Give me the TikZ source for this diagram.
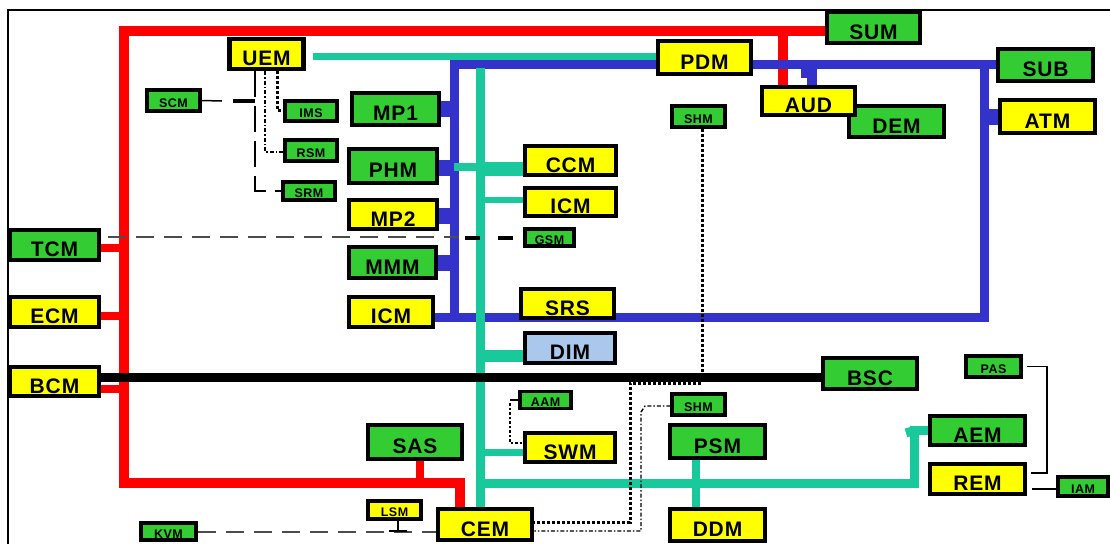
\documentclass[tikz,border=0pt]{standalone}
\usepackage{fontspec}
\setmainfont[LetterSpace=4]{Liberation Sans}
\definecolor{grn}{RGB}{51,204,51}
\definecolor{ylw}{RGB}{255,255,0}
\definecolor{lbl}{RGB}{170,200,235}
\definecolor{bbus}{RGB}{51,51,204}
\definecolor{tbus}{RGB}{25,200,155}
\definecolor{rbus}{RGB}{255,0,0}
\pgfdeclarelayer{background}
\pgfsetlayers{background,main}
\tikzset{
  mod/.style={draw=black, line width=4.5pt, inner sep=0pt, text height=23pt, text depth=0pt, font=\fontsize{21}{21}\selectfont\bfseries},
  smod/.style={draw=black, line width=3.5pt, inner sep=0pt, text height=13.3pt, text depth=0pt, font=\fontsize{12.5}{12.5}\selectfont\bfseries},
  gbox/.style={fill=grn}, ybox/.style={fill=ylw}, lbox/.style={fill=lbl},
  redbus/.style={draw=rbus, line width=10pt},
  redstub/.style={draw=rbus, line width=8pt},
  bluebus/.style={draw=bbus, line width=9pt},
  bluestub/.style={draw=bbus, line width=16pt},
  tealbus/.style={draw=tbus, line width=9pt},
  blackbus/.style={draw=black, line width=9pt},
  thickdot/.style={draw=black, line width=3pt, dash pattern=on 3pt off 2pt},
  thindd/.style={draw=black, line width=1.4pt, dash pattern=on 4pt off 2pt on 1.5pt off 2pt},
  longdash/.style={draw=black, line width=2pt, dash pattern=on 26pt off 9pt},
  busdash/.style={draw=black!70, line width=1.6pt, dash pattern=on 18pt off 10pt},
  thinline/.style={draw=black, line width=1.5pt}
}
\begin{document}
\begin{tikzpicture}[x=1pt,y=-1pt]
\useasboundingbox (0,0) rectangle (1110,544);

% ---- modules ----
\node[mod,ybox,minimum width=74pt,minimum height=30pt] (UEM) at (266.5,54) {UEM};
\node[mod,gbox,minimum width=93pt,minimum height=31pt] (SUM) at (873.5,27.5) {SUM};
\node[mod,ybox,minimum width=93pt,minimum height=33pt] (PDM) at (704.5,57.5) {PDM};
\node[mod,gbox,minimum width=95pt,minimum height=31pt] (DEM) at (896.5,121.5) {DEM};
\node[mod,ybox,minimum width=93pt,minimum height=28pt] (AUD) at (808.5,101) {AUD};
\node[mod,gbox,minimum width=95pt,minimum height=32pt] (SUB) at (1045.5,65) {SUB};
\node[mod,ybox,minimum width=95pt,minimum height=33pt] (ATM) at (1047.5,116.5) {ATM};
\node[smod,gbox,minimum width=53pt,minimum height=21pt] (SHMa) at (698.5,116.5) {SHM};

\node[mod,gbox,minimum width=87pt,minimum height=32pt] (MP1) at (395.5,109) {MP1};
\node[mod,gbox,minimum width=88pt,minimum height=34pt] (PHM) at (393,166) {PHM};
\node[mod,ybox,minimum width=88pt,minimum height=29pt] (MP2) at (393,214.5) {MP2};
\node[mod,gbox,minimum width=87pt,minimum height=31pt] (MMM) at (392.5,262.5) {MMM};
\node[mod,ybox,minimum width=84pt,minimum height=30pt] (ICMa) at (391,312) {ICM};

\node[mod,ybox,minimum width=91pt,minimum height=29pt] (CCM) at (570.5,160.5) {CCM};
\node[mod,ybox,minimum width=91pt,minimum height=28pt] (ICMb) at (570.5,202) {ICM};
\node[smod,gbox,minimum width=49pt,minimum height=17pt] (GSM) at (549.5,237.5) {GSM};
\node[mod,ybox,minimum width=93pt,minimum height=29pt] (SRS) at (567.5,303.5) {SRS};
\node[mod,lbox,minimum width=90pt,minimum height=30pt] (DIM) at (570,348) {DIM};

\node[mod,gbox,minimum width=89pt,minimum height=30pt] (TCM) at (54.5,245) {TCM};
\node[mod,ybox,minimum width=89pt,minimum height=30pt] (ECM) at (54.5,312) {ECM};
\node[mod,ybox,minimum width=89pt,minimum height=29pt] (BCM) at (54.5,381.5) {BCM};
\node[mod,gbox,minimum width=94pt,minimum height=31pt] (BSC) at (870,373.5) {BSC};

\node[mod,gbox,minimum width=94pt,minimum height=34pt] (SAS) at (415,442) {SAS};
\node[mod,ybox,minimum width=90pt,minimum height=29pt] (SWM) at (570,447.5) {SWM};
\node[smod,gbox,minimum width=51pt,minimum height=17pt] (AAM) at (545.5,400) {AAM};
\node[smod,gbox,minimum width=53pt,minimum height=21pt] (SHMb) at (698.5,404.5) {SHM};
\node[mod,gbox,minimum width=95pt,minimum height=33pt] (PSM) at (717.5,441.5) {PSM};
\node[mod,ybox,minimum width=95pt,minimum height=32pt] (DDM) at (717.5,525) {DDM};
\node[mod,ybox,minimum width=94pt,minimum height=31pt] (CEM) at (485,524.5) {CEM};
\node[smod,ybox,minimum width=53pt,minimum height=18pt] (LSM) at (394.5,510) {LSM};
\node[smod,gbox,minimum width=55pt,minimum height=17pt] (KVM) at (168.5,531.5) {KVM};

\node[mod,gbox,minimum width=95pt,minimum height=29pt] (AEM) at (977.5,430.5) {AEM};
\node[mod,ybox,minimum width=95pt,minimum height=30pt] (REM) at (977.5,479) {REM};
\node[smod,gbox,minimum width=55pt,minimum height=21pt] (PAS) at (993.5,366.5) {PAS};
\node[smod,gbox,minimum width=50pt,minimum height=19pt] (IAM) at (1083,486.5) {IAM};

\node[smod,gbox,minimum width=53pt,minimum height=21pt] (SCM) at (173.5,100.5) {SCM};
\node[smod,gbox,minimum width=52pt,minimum height=20pt] (IMS) at (311,111) {IMS};
\node[smod,gbox,minimum width=52pt,minimum height=21pt] (RSM) at (311,150.5) {RSM};
\node[smod,gbox,minimum width=52pt,minimum height=18pt] (SRM) at (309,191) {SRM};

% ---- connectors ----
\begin{pgfonlayer}{background}
\fill[white] (0,0) rectangle (1110,544);
\draw[line width=1.6pt] (8,544) -- (8,10) -- (1110,10);
% red bus
\coordinate (rTL) at (124,31);
\coordinate (rBL) at (124,483);
\coordinate (rBR) at (460,483);
\coordinate (rA) at (783,31);
\draw[redbus] (SUM.west |- rTL) -- (rTL) -- (rBL) -- (rBR) -- (rBR |- CEM.north);
\draw[redbus] (rA) -- (rA |- AUD.north);
\draw[redstub] ([yshift=-3pt]TCM.east) -- ([yshift=-3pt]TCM.east -| rTL);
\draw[redstub] ([yshift=-4pt]ECM.east) -- ([yshift=-4pt]ECM.east -| rTL);
\draw[redstub] ([yshift=-7.5pt]BCM.east) -- ([yshift=-7.5pt]BCM.east -| rTL);
\draw[redstub] ([xshift=5pt]SAS.south) -- ([xshift=5pt]SAS.south |- rBR);

% blue bus
\coordinate (bTL) at (454,64);
\coordinate (bTR) at (984,64);
\coordinate (bBR) at (984,317);
\coordinate (bA) at (812,64);
\draw[bluebus] (SUB.west |- bTL) -- (bTL) -- (bTL |- bBR);
\draw[bluebus] (ICMa.east |- bBR) -- (bBR) -- (bTR);
\draw[draw=bbus, line width=10pt] (bA) -- (bA |- AUD.north);
\draw[draw=bbus, line width=8pt] (805,66) -- (805,78);
\draw[bluestub] (MP1.east) -- (MP1.east -| bTL);
\draw[bluestub] ([yshift=-2pt]PHM.east) -- ([yshift=-2pt]PHM.east -| bTL);
\draw[bluestub] ([yshift=-1pt]MP2.east) -- ([yshift=-1pt]MP2.east -| bTL);
\draw[bluestub] (MMM.east) -- (MMM.east -| bTL);
\draw[bluestub] (ATM.west) -- (ATM.west -| bTR);

% teal bus
\coordinate (tT) at (480,68);
\coordinate (tB) at (480,483);
\coordinate (tR) at (914,483);
\draw[draw=tbus, line width=7pt] ([xshift=7pt]UEM.east |- 0,56) -- (PDM.west |- 0,56);
\draw[tealbus] (tT) -- (tT |- CEM.north);
\draw[tealbus] (tB) -- (tR) -- (tR |- AEM.west) -- (AEM.west);
\draw[tealbus] (906,433) -- (tR |- AEM.west);
\draw[draw=tbus, line width=8pt] (bTL |- 0,167) -- (tT |- 0,167);
\draw[draw=tbus, line width=14pt] (tT |- 0,169) -- (CCM.west |- 0,169);
\draw[draw=tbus, line width=6pt] (tT |- 0,200) -- (ICMb.west |- 0,200);
\draw[draw=tbus, line width=12pt] (tT |- 0,356) -- (DIM.west |- 0,356);
\draw[draw=tbus, line width=7pt] (tT |- 0,452) -- (SWM.west |- 0,452);
\draw[draw=tbus, line width=8pt] (PSM.south -| 696,0) -- (DDM.north -| 696,0);

% black bus
\draw[blackbus] ([yshift=4.5pt]BCM.east) -- ([yshift=4.5pt]BCM.east -| BSC.west);

% dashed TCM - GSM
\draw[busdash] ([xshift=7pt,yshift=8pt]TCM.east) -- (459,237);
\draw[draw=black, line width=4pt, dash pattern=on 15pt off 18pt] (465,237.5) -- (GSM.west);

% KVM - CEM, LSM
\draw[busdash, line width=2pt] (KVM.east) -- (KVM.east -| CEM.west);
\draw[thinline] (LSM.south -| 398,0) -- (398,531);
\draw[thinline] (389,531) -- (407,531);

% SHM dotted lines to CEM
\draw[thickdot] (SHMa.south -| 702,0) -- (702,383) -- (630,383) -- (630,522) -- (CEM.east |- 0,522);
\draw[thindd] (SHMb.west |- 0,406) -- (645,406) -- (641,412) -- (641,531) -- (CEM.east |- 0,531);

% AAM - SWM
\draw[thinline] (AAM.west) -- (510,400);
\draw[draw=black, line width=2.5pt, dash pattern=on 2.5pt off 2pt] (510,403) -- (510,443) -- (SWM.west |- 0,443);

% UEM cluster
\draw[longdash] (UEM.south -| 255,0) -- (255,191) -- (SRM.west |- 0,191);
\draw[thinline] (SCM.east) -- (222,101);
\draw[draw=black, line width=4pt] (233,101) -- (255,101);
\draw[thickdot] (UEM.south -| 277,0) -- (277,110) -- (IMS.west |- 0,110);
\draw[thindd] (UEM.south -| 265,0) -- (265,152) -- (RSM.west |- 0,152);

% PAS, IAM to REM
\draw[thinline] ([xshift=4pt]PAS.east) -- (1047,366.5) -- (1047,473) -- ([xshift=4pt]REM.east |- 0,473);
\draw[thinline] ([xshift=5pt]REM.east |- 0,489) -- (IAM.west |- 0,489);
\end{pgfonlayer}
\end{tikzpicture}
\end{document}
